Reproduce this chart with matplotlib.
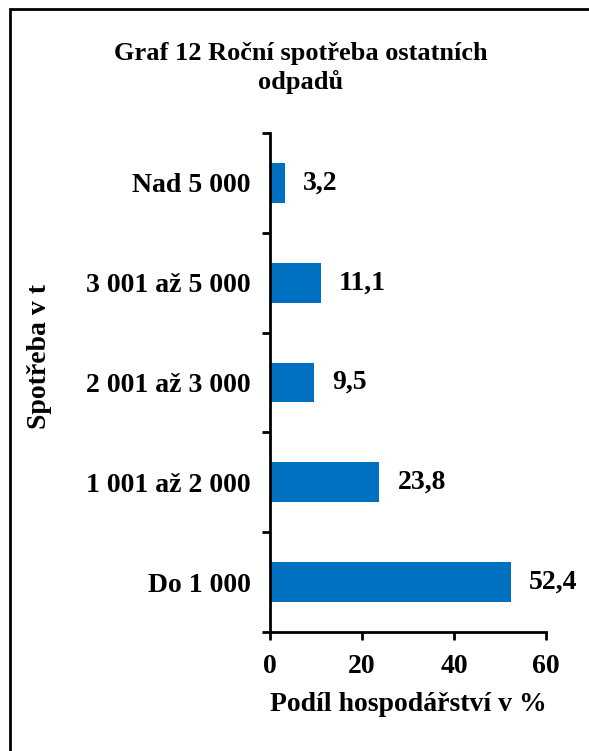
import matplotlib.pyplot as plt
from matplotlib.patches import Rectangle

# data (bottom to top)
categories = ["Do 1 000", "1 001 až 2 000", "2 001 až 3 000", "3 001 až 5 000", "Nad 5 000"]
shares = [52.4, 23.8, 9.5, 11.1, 3.2]
xticks = [0, 20, 40, 60]

plt.rcParams['font.family'] = ['Liberation Serif', 'DejaVu Serif']
plt.rcParams['font.weight'] = 'bold'

fig = plt.figure(figsize=(5.89, 7.51), dpi=100)
ax = fig.add_axes([270/589, 1-632/751, 276/589, 499/751])

pos = list(range(len(categories)))
ax.barh(pos, shares, height=0.4, color='#0070C0')
for p, v in zip(pos, shares):
    ax.annotate(("%.1f" % v).replace('.', ','), xy=(v, p), xytext=(13, 0),
                textcoords='offset points', va='center', ha='left',
                fontsize=20, fontweight='bold')

ax.set_xlim(0, 60)
ax.set_ylim(-0.5, len(categories) - 0.5)
ax.set_xticks(xticks)
ax.set_xticklabels([str(t) for t in xticks], fontsize=20, fontweight='bold')
ax.set_yticks(pos)
ax.set_yticklabels(categories, fontsize=20, fontweight='bold')
ax.set_yticks([p - 0.5 for p in pos] + [len(categories) - 0.5], minor=True)
ax.tick_params(axis='y', which='major', length=0, pad=14)
ax.tick_params(axis='y', which='minor', length=6, width=2)
ax.tick_params(axis='x', length=6, width=2, pad=10)

for s in ['top', 'right']:
    ax.spines[s].set_visible(False)
for s in ['left', 'bottom']:
    ax.spines[s].set_linewidth(2)

ax.set_xlabel("Podíl hospodářství v %", fontsize=20, fontweight='bold')
ax.set_ylabel("Spotřeba v t", fontsize=20, fontweight='bold')
ax.yaxis.set_label_coords(-0.79, 0.553)
ax.xaxis.set_label_coords(0.5, -0.12)

fig.text(0.511, 0.909, "Graf 12 Roční spotřeba ostatních\nodpadů", ha='center', va='center',
         fontsize=19, fontweight='bold', linespacing=1.25)

# outer frame (left and top edges visible)
fig.patches.append(Rectangle((10/589, -0.1), 1.2, 1.1 - 9/751, transform=fig.transFigure,
                             fill=False, edgecolor='black', linewidth=2))

fig.savefig("out.png", dpi=100)
